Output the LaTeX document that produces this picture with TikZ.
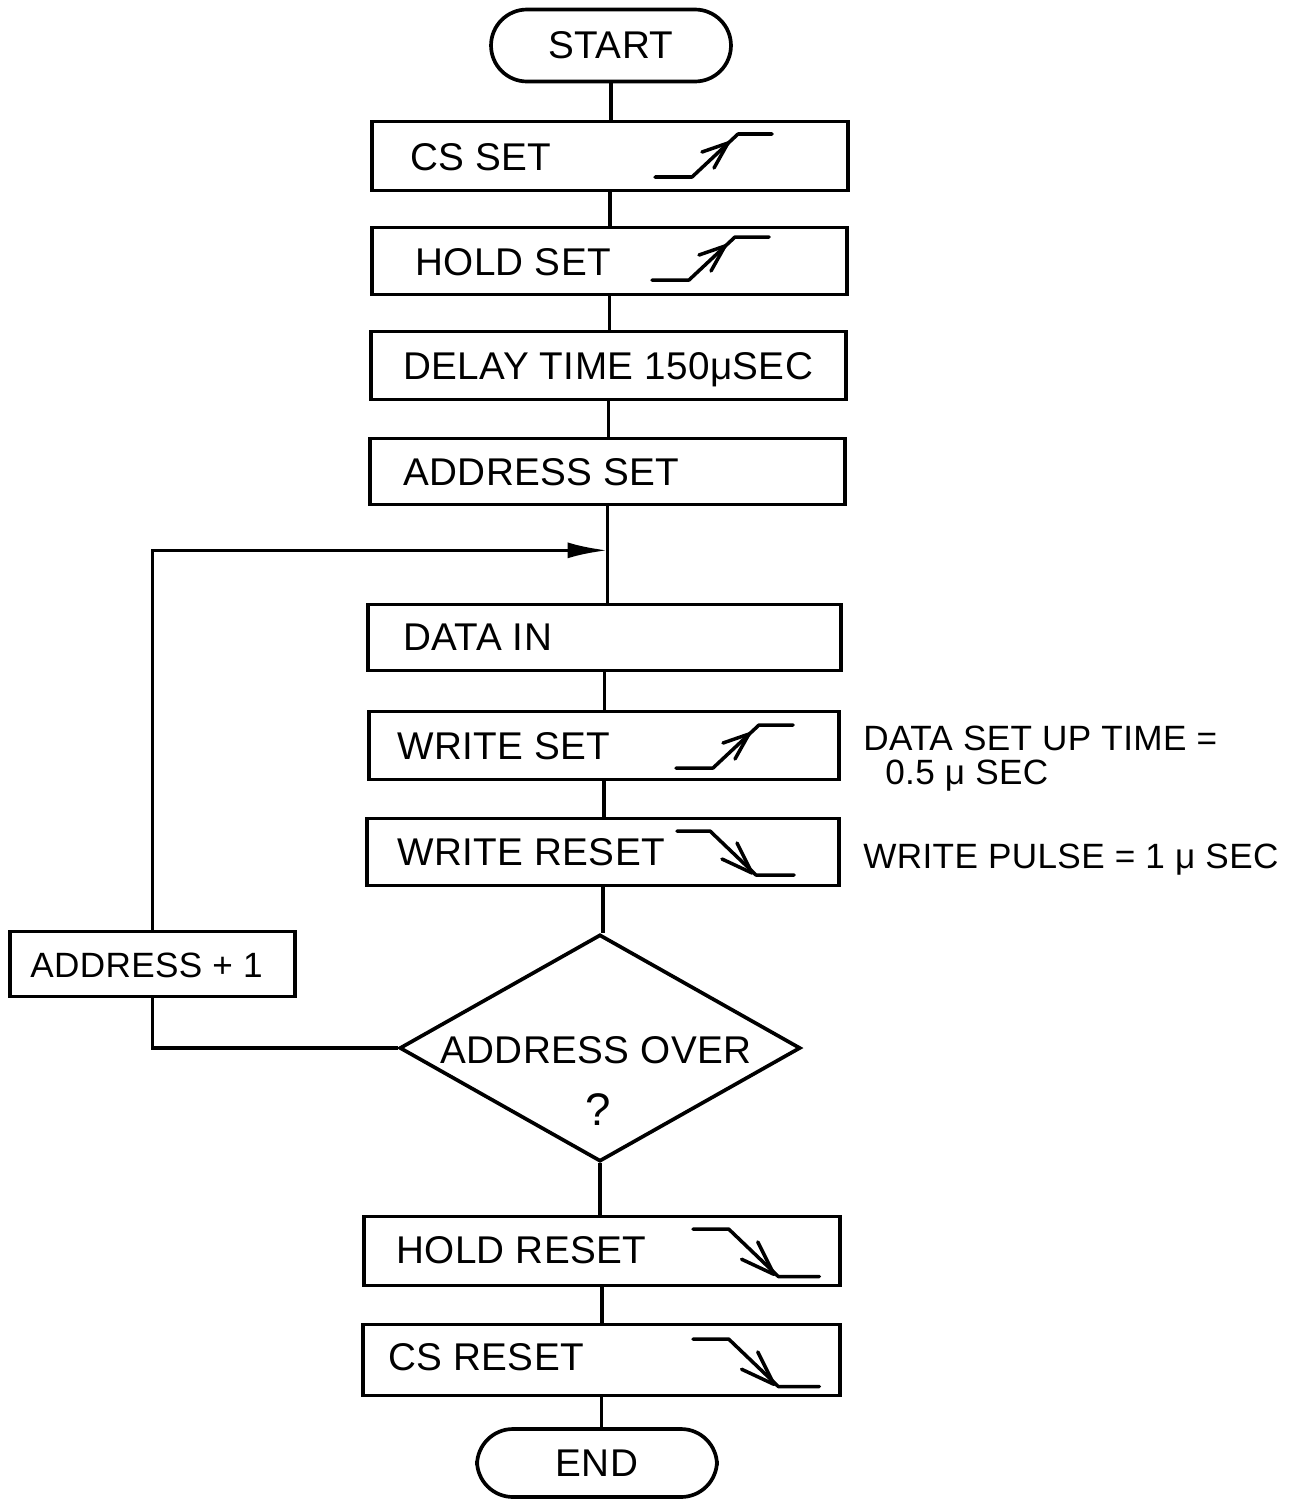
\documentclass[tikz,border=0pt]{standalone}
\usepackage{fontspec}
\setmainfont{Liberation Sans}[LetterSpace=1]
\usetikzlibrary{shapes.geometric,arrows.meta,calc}
\begin{document}
\begin{tikzpicture}[x=0.02cm,y=-0.02cm,
  every node/.style={font=\fontsize{22}{26}\selectfont},
  box/.style={draw,line width=2.1pt,rectangle,inner sep=0pt},
  pill/.style={draw,line width=2.1pt,rectangle,rounded corners=0.72cm,inner sep=0pt,minimum width=4.80cm},
  lbl/.style={anchor=base west,inner sep=0pt},
  note/.style={anchor=base west,inner sep=0pt,font=\fontsize{20}{24}\selectfont},
  conn/.style={line width=2.1pt},
  wave/.style={line width=2pt,line cap=round,line join=round}]
\useasboundingbox (0,0) rectangle (1306,1502);

% terminals
\node[pill,minimum height=1.44cm] (start) at (611,45.5) {START};
\node[pill,minimum height=1.36cm] (end) at (597,1463) {END};

% process boxes
\node[box,minimum width=9.52cm,minimum height=1.38cm] (cs) at (610,156) {};
\node[box,minimum width=9.50cm,minimum height=1.34cm] (hold) at (609.5,261) {};
\node[box,minimum width=9.50cm,minimum height=1.36cm] (delay) at (608.5,365.5) {};
\node[box,minimum width=9.50cm,minimum height=1.32cm] (addr) at (607.5,471.5) {};
\node[box,minimum width=9.46cm,minimum height=1.32cm] (data) at (604.5,637.5) {};
\node[box,minimum width=9.40cm,minimum height=1.36cm] (wset) at (604,745.5) {};
\node[box,minimum width=9.44cm,minimum height=1.34cm] (wreset) at (603,852) {};
\node[box,minimum width=9.52cm,minimum height=1.38cm] (hreset) at (602,1251) {};
\node[box,minimum width=9.54cm,minimum height=1.42cm] (csreset) at (601.5,1360) {};
\node[box,minimum width=5.70cm,minimum height=1.30cm] (inc) at (152.5,964) {};
\node[draw,line width=2.1pt,diamond,inner sep=0pt,minimum width=8.02cm,minimum height=4.54cm] (dia) at (600,1048) {};

% box texts
\node[lbl] (tcs) at (410,170) {CS SET};
\node[lbl] (thold) at (415,275) {HOLD SET};
\node[lbl] (tdelay) at (403,379) {DELAY TIME 150μSEC};
\node[lbl] (taddr) at (403,485) {ADDRESS SET};
\node[lbl] (tdata) at (403,650) {DATA IN};
\node[lbl] (twset) at (397,759) {WRITE SET};
\node[lbl] (twreset) at (397,865) {WRITE RESET};
\node[lbl] (threset) at (396,1263) {HOLD RESET};
\node[lbl] (tcsreset) at (388,1370) {CS RESET};
\node[lbl,font=\fontsize{20}{24}\selectfont] (tinc) at (30,977) {ADDRESS + 1};
\node[lbl] (tover) at (440,1063) {ADDRESS OVER};
\node[font=\fontsize{26}{30}\selectfont,inner sep=0pt] (tq) at (598,1110) {?};

% side notes
\node[note] (n1) at (863,750) {DATA SET UP TIME =};
\node[note] (n2) at (885,784) {0.5 μ SEC};
\node[note] (n3) at (863,868) {WRITE PULSE = 1 μ SEC};

% connectors
\draw[conn] (start.south) -- (start.south |- cs.north);
\draw[conn] (cs.south) -- (cs.south |- hold.north);
\draw[conn] (hold.south) -- (hold.south |- delay.north);
\draw[conn] (delay.south) -- (delay.south |- addr.north);
\coordinate (j) at ($(addr.south)+(0,44)$);
\draw[conn] (addr.south) -- (j) -- (j |- data.north);
\draw[conn] (data.south) -- (data.south |- wset.north);
\draw[conn] (wset.south) -- (wset.south |- wreset.north);
\draw[conn] (wreset.south) -- (wreset.south |- dia.north);
\draw[conn] (dia.south) -- (dia.south |- hreset.north);
\draw[conn] (hreset.south) -- (hreset.south |- csreset.north);
\draw[conn] (csreset.south) -- (csreset.south |- end.north);
\draw[conn] (dia.west) -| (inc.south);
\draw[conn,-{Latex[length=0.8cm,width=0.32cm]}] (inc.north) |- (j);

% rising waveforms
\foreach \px/\py in {655/177, 652/280, 676/768} {
  \draw[wave,shift={(\px,\py)}] (0,0) -- (37,0) -- (83,-43) -- (117,-43);
  \draw[wave,shift={(\px,\py)}] (47,-25) -- (73,-34) -- (59,-9);
}
% falling waveforms
\foreach \px/\py/\s in {677/831/1, 693/1229/1.08, 693/1339/1.08} {
  \draw[wave,shift={(\px,\py)},scale=\s] (0,0) -- (33,0) -- (79,44) -- (117,44);
  \draw[wave,shift={(\px,\py)},scale=\s] (45,28) -- (75,42) -- (60,12);
}
\end{tikzpicture}
\end{document}
